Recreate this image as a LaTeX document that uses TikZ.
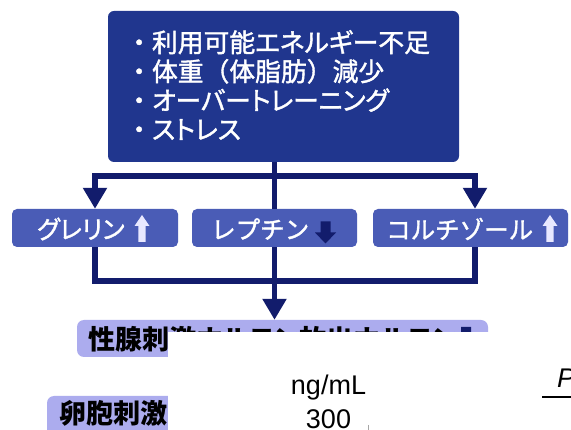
\documentclass[tikz,border=0pt]{standalone}
\usepackage{fontspec}
\usetikzlibrary{arrows.meta}
\newfontfamily\jpm{Noto Sans CJK JP}[FakeBold=1.5]
\newfontfamily\jpmp{Noto Sans CJK JP}[FakeBold=1.5,RawFeature=+palt]
\newfontfamily\jpbp{Noto Sans CJK JP}[RawFeature=+palt]
\newfontfamily\lat{Liberation Sans}
\definecolor{topc}{RGB}{32,54,142}
\definecolor{linec}{RGB}{18,28,108}
\definecolor{midc}{RGB}{74,92,182}
\definecolor{lavc}{RGB}{172,172,238}
\definecolor{arrl}{RGB}{232,232,255}
\begin{document}
\begin{tikzpicture}[x=1pt,y=-1pt,
  topbox/.style={draw=none,fill=topc,rounded corners=6pt,inner sep=0pt},
  midbox/.style={draw=none,fill=midc,rounded corners=5pt,inner sep=0pt,minimum height=38pt},
  lavbox/.style={draw=none,fill=lavc,rounded corners=7pt,inner sep=0pt},
  toptext/.style={text=white,inner sep=0pt,align=left,font=\jpmp\fontsize{25.8}{29}\selectfont},
  midtext/.style={text=white,inner sep=0pt,font=\jpm\fontsize{24.5}{29}\selectfont},
  lavtext/.style={text=black,inner sep=0pt,font=\jpbp\bfseries\fontsize{27}{30}\selectfont},
  numtext/.style={text=black,inner sep=0pt,font=\lat\fontsize{27}{30}\selectfont},
  conn/.style={draw=linec,line width=5.5pt},
  arr/.style={-{Triangle[width=23pt,length=21pt]}},
  uparrow/.pic={\fill[#1] (0,-13.5) -- ++(7.5,11) -- ++(-3.8,0) -- ++(0,16) -- ++(-7.4,0) -- ++(0,-16) -- ++(-3.8,0) -- cycle;},
  dnarrow/.pic={\fill[#1] (-5,-11) -- (5,-11) -- (5,0) -- (10.5,0) -- (0,11) -- (-10.5,0) -- (-5,0) -- cycle;}
]
\useasboundingbox (0,0) rectangle (571,430);
\clip (0,0) rectangle (571,430);
\fill[white] (0,0) rectangle (571,430);

% top box
\node[topbox,minimum width=351pt,minimum height=151pt] (top) at (283.5,86.5) {};
\node[toptext,anchor=west] (toptxt) at (126,85) {{\jpm ・}利用可能エネルギー不足\\{\jpm ・}体重{\jpm （}体脂肪{\jpm ）}減少\\{\jpm ・}オーバートレーニング\\{\jpm ・}ストレス};

% middle boxes
\node[midbox,minimum width=166pt] (ghr) at (95,228) {};
\node[midbox,minimum width=165pt] (lep) at (274.5,228) {};
\node[midbox,minimum width=195pt] (cor) at (470.5,228) {};
\node[midtext,anchor=west,font=\jpmp\fontsize{25}{29}\selectfont] (ghrt) at (37,229) {グレリン};
\node[midtext,anchor=west] (lept) at (211,229) {レプチン};
\node[midtext,anchor=west] (cort) at (386,229) {コルチゾール};
\pic at (142,228.5) {uparrow=arrl};
\pic at (550,228.5) {uparrow=arrl};
\pic at (325.5,232.5) {dnarrow=linec};

% lower boxes
\node[lavbox,minimum width=411pt,minimum height=37pt] (gn) at (282.5,338.5) {};
\node[lavtext,anchor=west] (gnt) at (88,339) {性腺刺激ホルモン放出ホルモン};
\pic at (466,338) {dnarrow=linec};
\node[lavbox,minimum width=253pt,minimum height=48pt] (fsh) at (173.5,420) {};
\node[lavtext,anchor=west] (fsht) at (59,413) {卵胞刺激ホルモン};

% connectors
\coordinate (j1) at (274.5,176);
\coordinate (j2) at (274.5,281);
\draw[conn] (top.south -| lep.north) -- (lep.north);
\draw[conn,arr] (j1) -| (ghr.north);
\draw[conn,arr] (j1) -| ([xshift=4.5pt]cor.north);
\draw[conn] (ghr.south) |- (j2) -| ([xshift=4.5pt]cor.south);
\draw[conn] (lep.south) -- (j2);
\draw[conn,arr] (j2) -- (j2 |- gn.north);

% overlaid chart fragment
\fill[white] (168,332) rectangle (571,430);
\node[numtext] (unit) at (328.5,388) {ng/mL};
\node[numtext] (n300) at (328.5,419) {300};
\draw[gray!70,line width=1pt] (368,425) -- (368,431);
\node[numtext,anchor=base west] (pp) at (557,388) {\itshape P};
\draw[black,line width=1.1pt] (542,397) -- (575,397);
\end{tikzpicture}
\end{document}
